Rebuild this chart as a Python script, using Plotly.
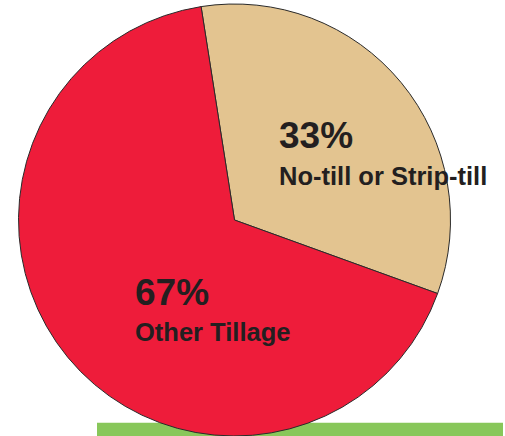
import plotly.graph_objects as go

# Data
categories = ["No-till or Strip-till", "Other Tillage"]
shares = [33, 67]
colors = ["#E3C490", "#EE1C3A"]

W, H = 505, 436

fig = go.Figure()
fig.add_trace(go.Pie(
    labels=categories,
    values=shares,
    sort=False,
    direction="clockwise",
    rotation=-8.9,
    marker=dict(colors=colors, line=dict(color="#2a2a2a", width=1)),
    textinfo="none",
    hoverinfo="label+percent",
    showlegend=False,
    domain=dict(x=[18.5 / W, 450.5 / W], y=[0, 1 - 4 / H]),
))

def px(x):
    return x / W

def py(y):
    return 1 - y / H

font_fam = "Liberation Sans, Arial, Helvetica, sans-serif"
txt_col = "#231F20"
label_pos = [(277, 135, 175.5), (133, 292.5, 331.5)]
annotations = []
for cat, val, (lx, y1, y2) in zip(categories, shares, label_pos):
    annotations.append(dict(x=px(lx), y=py(y1), xref="paper", yref="paper",
                            xanchor="left", yanchor="middle", showarrow=False,
                            text=f"<b>{val}%</b>",
                            font=dict(family=font_fam, size=37, color=txt_col)))
    annotations.append(dict(x=px(lx), y=py(y2), xref="paper", yref="paper",
                            xanchor="left", yanchor="middle", showarrow=False,
                            text=f"<b>{cat}</b>",
                            font=dict(family=font_fam, size=25.5, color=txt_col)))

fig.update_layout(
    width=W, height=H,
    margin=dict(l=0, r=0, t=0, b=0),
    paper_bgcolor="white",
    plot_bgcolor="white",
    annotations=annotations,
    shapes=[dict(type="rect", xref="paper", yref="paper", layer="below",
                 x0=px(97), x1=px(503), y0=0, y1=py(422.7),
                 fillcolor="#88C75A", line=dict(width=0))],
)

fig.write_html(
    "out.html",
    config={"displayModeBar": False},
    post_script="document.body.style.margin='0';document.body.style.padding='0';"
                "document.body.style.overflow='hidden';",
)
